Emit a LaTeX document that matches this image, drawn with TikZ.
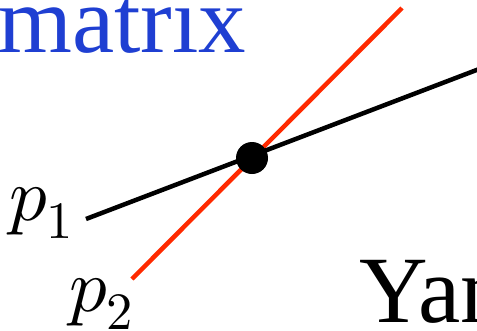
\documentclass[tikz,border=0pt]{standalone}
\usepackage{fontspec}
\setmainfont{Liberation Serif}
\usepackage{unicode-math}
\setmathfont{Latin Modern Math}
\definecolor{lblue}{HTML}{1F3FD2}
\definecolor{lred}{HTML}{FF2A00}
\begin{document}
\begin{tikzpicture}[x=1pt,y=-1pt,
  bigtext/.style={inner sep=0pt,anchor=base west,font=\fontsize{95}{95}\selectfont},
  lab/.style={inner sep=0pt,anchor=base west,font=\fontsize{75}{75}\selectfont},
  ln/.style={line width=4.5pt}]
\useasboundingbox (0,0) rectangle (477,330);
\node[bigtext,text=lblue] (mat) at (-2,52) {matrix};
\node[bigtext] (yan) at (359,322) {Yan};
\node[lab] (p1) at (9,220) {$p_1$};
\node[lab] (p2) at (69,311) {$p_2$};
\coordinate (a1) at (86,219);
\coordinate (a2) at (491,64.5);
\coordinate (b1) at (132,279);
\coordinate (b2) at (402,8);
\coordinate (x) at (252,158);
\draw[ln,lred] (b1) -- (b2);
\draw[ln,black] (a1) -- (a2);
\fill (x) circle[radius=16];
\end{tikzpicture}
\end{document}
